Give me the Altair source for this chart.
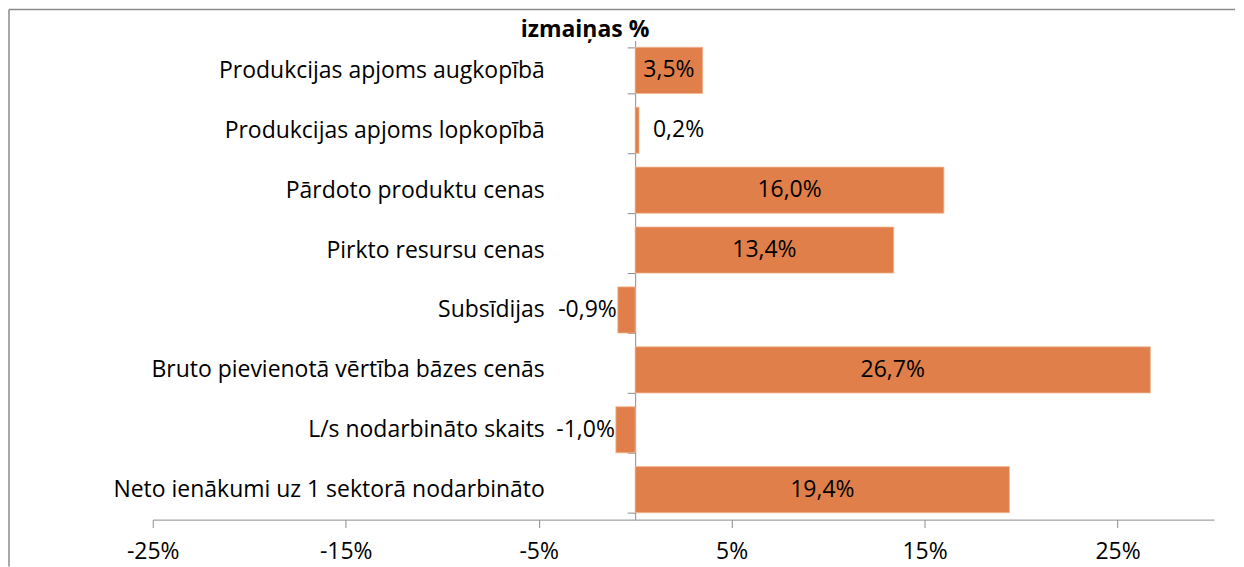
import altair as alt
import pandas as pd

categories = [
    "Produkcijas apjoms augkopībā",
    "Produkcijas apjoms lopkopībā",
    "Pārdoto produktu cenas",
    "Pirkto resursu cenas",
    "Subsīdijas",
    "Bruto pievienotā vērtība bāzes cenās",
    "L/s nodarbināto skaits",
    "Neto ienākumi uz 1 sektorā nodarbināto",
]
values = [3.5, 0.2, 16.0, 13.4, -0.9, 26.7, -1.0, 19.4]
label_place = ["center", "outside", "center", "center", "outside", "center", "outside", "center"]
x_ticks = [-25, -15, -5, 5, 15, 25]
x_domain = [-25, 30]

FONT = "Open Sans"
FS = 23
BAR = "#E07F4A"
GRID = "#8C8C8C"

df = pd.DataFrame({"cat": categories, "val": values, "place": label_place})
df["txt"] = df["val"].map(lambda v: f"{v:.1f}%".replace(".", ","))
df["mid"] = df["val"] / 2

W, H = 1063, 480
zero_px = (0 - x_domain[0]) / (x_domain[1] - x_domain[0]) * W

xs = alt.Scale(domain=x_domain, nice=False, zero=False)
ys = alt.Scale(domain=categories, paddingInner=0.23, paddingOuter=0.115)

base = alt.Chart(df)

bars = base.mark_bar(color=BAR, stroke="#F0B896", strokeWidth=0.8).encode(
    x=alt.X("val:Q", scale=xs, axis=alt.Axis(
        values=x_ticks, labelExpr="datum.value + '%'", grid=False, labelFlush=False,
        domainColor=GRID, tickColor=GRID, tickSize=8, labelPadding=13,
        labelFontSize=FS, labelFont=FONT, labelColor="black", title=None)),
    x2=alt.datum(0),
    y=alt.Y("cat:N", scale=ys, sort=categories, axis=alt.Axis(
        offset=-zero_px, domainColor=GRID, tickColor=GRID, tickSize=8,
        tickBand="extent", labelPadding=83, labelFontSize=FS, labelFont=FONT,
        labelColor="black", title=None, labelLimit=600)),
)

lab_center = base.transform_filter("datum.place == 'center'").mark_text(
    font=FONT, fontSize=FS, color="black", align="center", baseline="middle"
).encode(x=alt.X("mid:Q", scale=xs), y=alt.Y("cat:N", scale=ys, sort=categories), text="txt:N")

lab_pos = base.transform_filter("datum.place == 'outside' && datum.val >= 0").mark_text(
    font=FONT, fontSize=FS, color="black", align="left", baseline="middle", dx=14
).encode(x=alt.X("val:Q", scale=xs), y=alt.Y("cat:N", scale=ys, sort=categories), text="txt:N")

lab_neg = base.transform_filter("datum.place == 'outside' && datum.val < 0").mark_text(
    font=FONT, fontSize=FS, color="black", align="right", baseline="middle", dx=-1
).encode(x=alt.X("val:Q", scale=xs), y=alt.Y("cat:N", scale=ys, sort=categories), text="txt:N")

title = alt.Chart(pd.DataFrame({"t": ["izmaiņas %"]})).mark_text(
    font=FONT, fontSize=FS, fontWeight="bold", color="black", align="center", baseline="alphabetic"
).encode(x=alt.value(433), y=alt.value(-3), text="t:N")

frame_df = pd.DataFrame({"k": [1]})
frame_top = alt.Chart(frame_df).mark_rule(color="#8A8A8A", strokeWidth=1.5).encode(
    x=alt.value(-144), x2=alt.value(1084), y=alt.value(-31))
frame_left = alt.Chart(frame_df).mark_rule(color="#8A8A8A", strokeWidth=1.5).encode(
    x=alt.value(-144), y=alt.value(-31), y2=alt.value(527))

chart = alt.layer(frame_top, frame_left, bars, lab_center, lab_pos, lab_neg, title).properties(
    width=W, height=H, padding=0, background="white"
).configure_view(stroke=None)

chart.save("out.html", embed_options={"renderer": "svg", "actions": False})
